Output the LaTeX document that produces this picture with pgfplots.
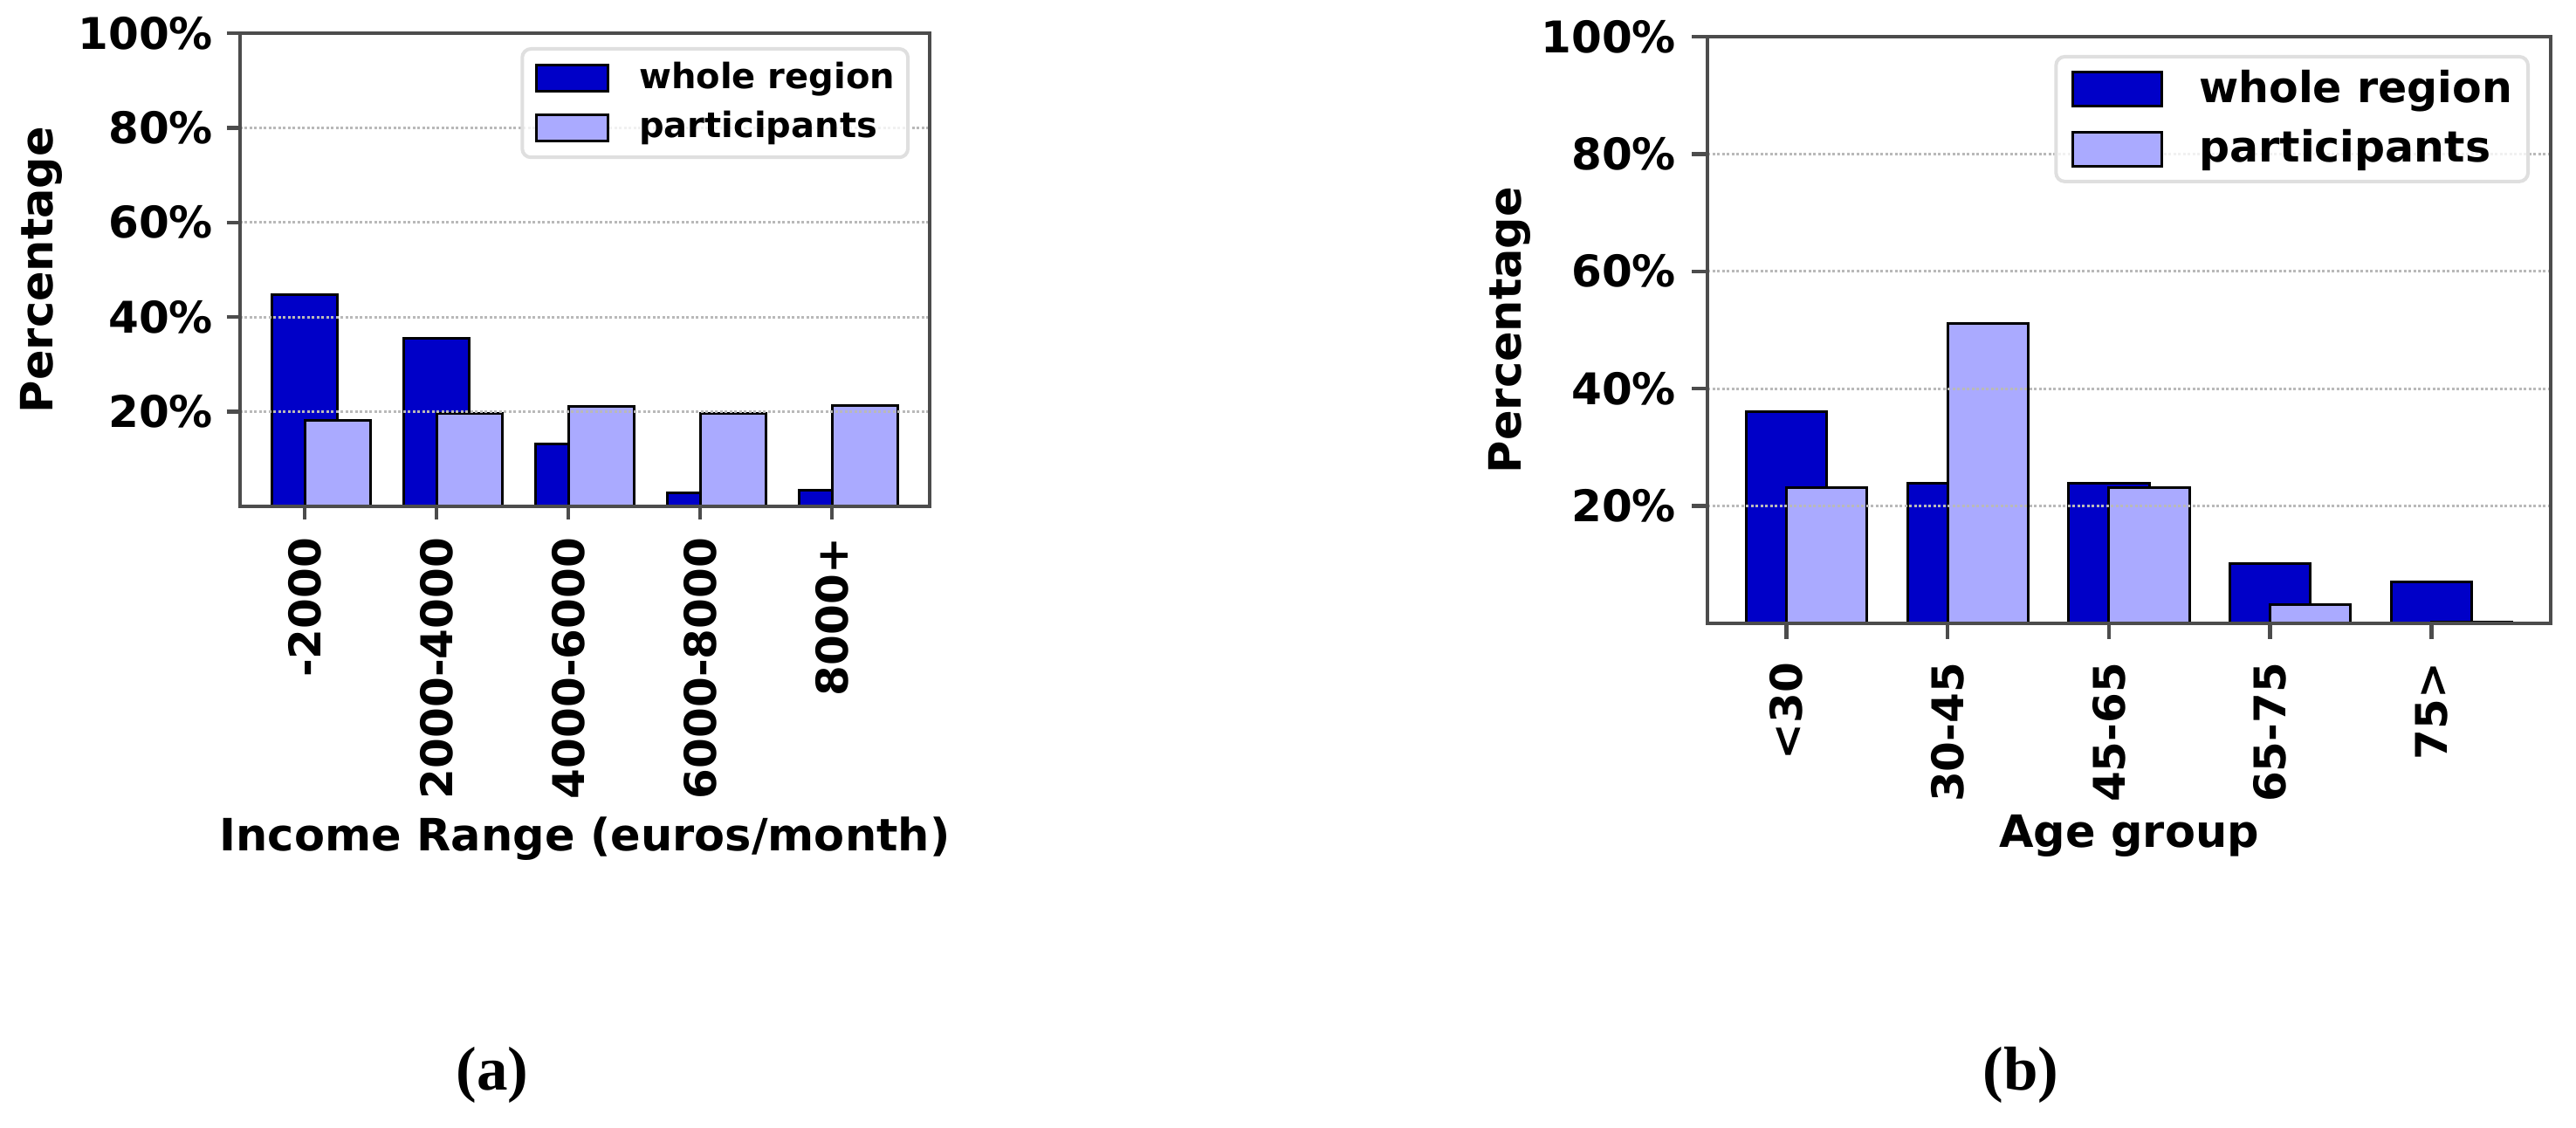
\documentclass[border=0pt]{standalone}
\usepackage{fontspec}
\setmainfont{DejaVu Sans}
\newfontfamily\capfont{Liberation Serif}
\usepackage{pgfplots}
\pgfplotsset{compat=1.18}

\definecolor{wholereg}{RGB}{0,0,200}
\definecolor{partic}{RGB}{170,170,255}

% 1px of the reference = 0.2pt
\pgfplotsset{
  panel/.style={
    scale only axis, anchor=north west,
    xmin=-0.49, xmax=4.74, ymin=0, ymax=100,
    xtick={0,1,2,3,4},
    ytick={20,40,60,80,100},
    yticklabels={20\%,40\%,60\%,80\%,100\%},
    tick align=outside, tick pos=left,
    axis on top,
    axis line style={black!70, line width=0.9pt},
    major tick style={black!70, line width=0.9pt},
    ymajorgrids,
    grid style={gray!55, line width=0.6pt, dash pattern=on 0.6pt off 0.5pt},
    ticklabel style={font=\fontsize{10}{12}\selectfont\bfseries, inner sep=0pt},
    xticklabel style={rotate=90, anchor=east},
    yticklabel style={anchor=east},
    label style={font=\fontsize{10.2}{12}\selectfont\bfseries},
    legend cell align=left,
  },
  wbar/.style={ybar, bar width=0.5, bar shift=0, fill=wholereg, draw=black, line width=0.6pt},
  pbar/.style={ybar, bar width=0.5, bar shift=0.25, fill=partic, draw=black, line width=0.6pt},
}
\newcommand{\patch}[3]{\draw[sharp corners, fill opacity=1, draw opacity=1, fill=#1, draw=black, line width=0.6pt] (0pt,-#3) rectangle (#2,#3);}

\begin{document}
\begin{tikzpicture}
\path[use as bounding box] (0,0) rectangle (590.2pt,-258.4pt);

% (a) income
\begin{axis}[panel,
  at={(55pt,-7.6pt)}, width=158pt, height=108.4pt,
  major tick length=3pt,
  xticklabel shift=4pt, yticklabel shift=3pt,
  xticklabels={-2000,2000-4000,4000-6000,6000-8000,8000+},
  xlabel={Income Range (euros/month)},
  ylabel={Percentage},
  xlabel style={at={(axis description cs:0.5,-0.703)}, anchor=center},
  ylabel style={at={(axis description cs:-0.2886,0.5)}, anchor=center},
  legend style={at={(axis description cs:0.971,0.9705)}, anchor=north east,
    draw=gray!25, line width=0.8pt, rounded corners=2pt,
    fill=white, fill opacity=0.8, draw opacity=1, text opacity=1,
    font=\fontsize{8}{9.6}\selectfont\bfseries,
    inner xsep=3pt, inner ysep=3pt, row sep=3.7pt,
    nodes={inner sep=0pt},
    /tikz/every odd column/.append style={column sep=6.8pt}},
]
\addplot[wbar, legend image code/.code={\patch{wholereg}{16.4pt}{3pt}}]
  coordinates {(0,44.8) (1,35.5) (2,13.1) (3,2.9) (4,3.4)};
\addlegendentry{whole region}
\addplot[pbar, legend image code/.code={\patch{partic}{16.4pt}{3pt}}]
  coordinates {(0,18.2) (1,19.7) (2,21.2) (3,19.7) (4,21.3)};
\addlegendentry{participants}
\end{axis}

% (b) age
\begin{axis}[panel,
  at={(391.2pt,-8.4pt)}, width=193.2pt, height=134.4pt,
  major tick length=3.6pt,
  xticklabel shift=5.2pt, yticklabel shift=3.4pt,
  xticklabels={<30,30-45,45-65,65-75,75>},
  xlabel={Age group},
  ylabel={Percentage},
  xlabel style={at={(axis description cs:0.5,-0.3616)}, anchor=center},
  ylabel style={at={(axis description cs:-0.235,0.5)}, anchor=center},
  legend style={at={(axis description cs:0.9752,0.9688)}, anchor=north east,
    draw=gray!25, line width=0.8pt, rounded corners=2pt,
    fill=white, fill opacity=0.8, draw opacity=1, text opacity=1,
    font=\fontsize{9.8}{11.8}\selectfont\bfseries,
    inner xsep=3.6pt, inner ysep=3pt, row sep=4.7pt,
    nodes={inner sep=0pt},
    /tikz/every odd column/.append style={column sep=8.2pt}},
]
\addplot[wbar, legend image code/.code={\patch{wholereg}{20.4pt}{3.9pt}}]
  coordinates {(0,36.1) (1,23.9) (2,23.9) (3,10.2) (4,7.1)};
\addlegendentry{whole region}
\addplot[pbar, legend image code/.code={\patch{partic}{20.4pt}{3.9pt}}]
  coordinates {(0,23.2) (1,51.1) (2,23.2) (3,3.2) (4,0.2)};
\addlegendentry{participants}
\end{axis}

\node[font=\capfont\fontsize{14.2}{17}\selectfont\bfseries] at (112.8pt,-246.2pt) {(a)};
\node[font=\capfont\fontsize{14.2}{17}\selectfont\bfseries] at (463pt,-246.2pt) {(b)};
\end{tikzpicture}
\end{document}
